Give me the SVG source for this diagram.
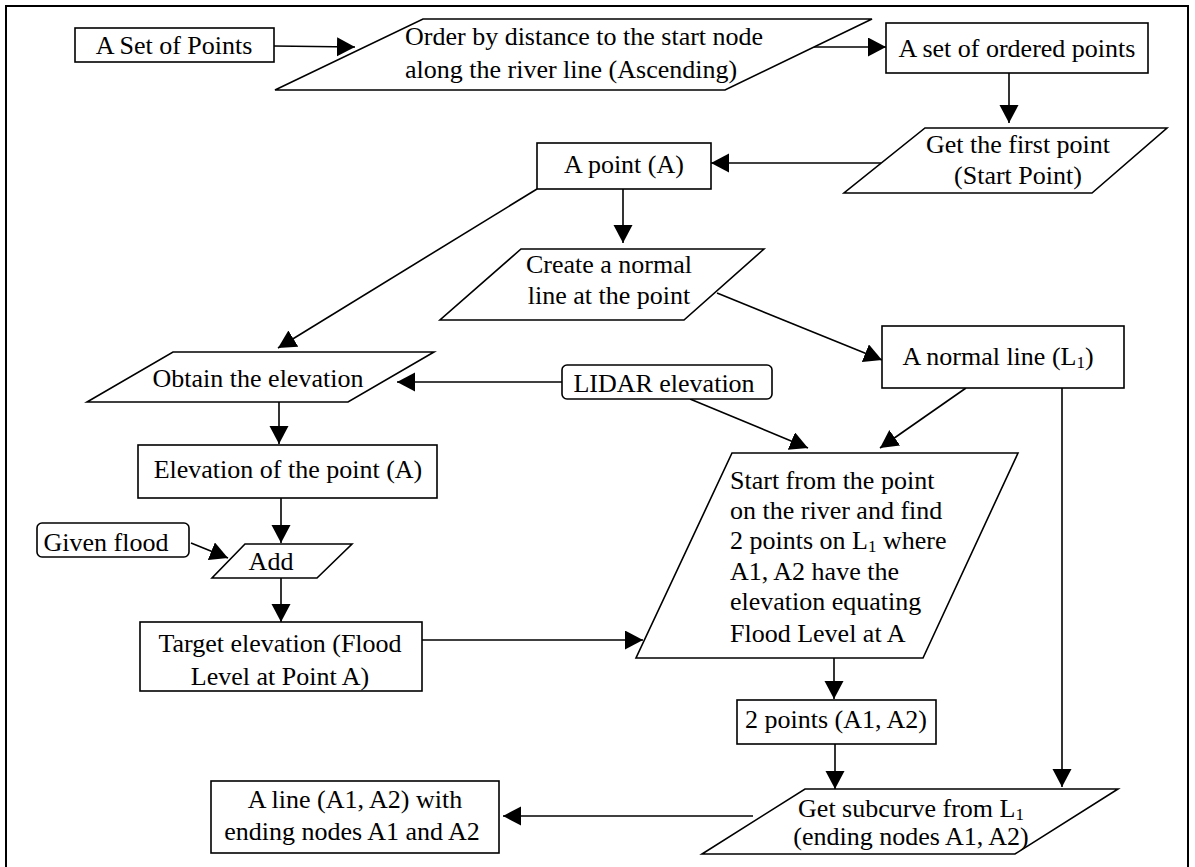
<svg xmlns="http://www.w3.org/2000/svg" width="1195" height="867" viewBox="0 0 1195 867">
<style>
.s{fill:#fff;stroke:#000;stroke-width:1.6}
.t{font-size:26px;fill:#000}
.c{text-anchor:middle}
.e{stroke:#000;stroke-width:1.6;fill:none;marker-end:url(#ah)}
</style>
<defs>
<marker id="ah" markerUnits="userSpaceOnUse" markerWidth="20" markerHeight="20" refX="18" refY="9.5" orient="auto">
<path d="M0,0 L18,9.5 L0,19 z" fill="#000"/>
</marker>
</defs>
<rect x="6" y="6" width="1182" height="880" fill="#fff" stroke="#000" stroke-width="2"/>
<g id="connectors">
<line class="e" x1="274" y1="46" x2="355" y2="47"/>
<line class="e" x1="814" y1="47" x2="886" y2="47"/>
<line class="e" x1="1009" y1="73" x2="1009" y2="123"/>
<line class="e" x1="881" y1="163" x2="711" y2="163"/>
<line class="e" x1="623" y1="189" x2="623" y2="243"/>
<line class="e" x1="537" y1="189" x2="278" y2="348"/>
<line class="e" x1="717" y1="293" x2="882" y2="360"/>
<line class="e" x1="562" y1="382" x2="397" y2="382"/>
<line class="e" x1="690" y1="399" x2="808" y2="448"/>
<line class="e" x1="966" y1="388" x2="880" y2="448"/>
<line class="e" x1="1062" y1="388" x2="1062" y2="787"/>
<line class="e" x1="279" y1="402" x2="279" y2="444"/>
<line class="e" x1="281" y1="498" x2="281" y2="543"/>
<line class="e" x1="191" y1="543" x2="228" y2="558"/>
<line class="e" x1="281" y1="578" x2="281" y2="622"/>
<line class="e" x1="422" y1="640" x2="643" y2="640"/>
<line class="e" x1="834" y1="658" x2="834" y2="699"/>
<line class="e" x1="835" y1="744" x2="835" y2="789"/>
<line class="e" x1="753" y1="816" x2="503" y2="816"/>
</g>
<g font-family="Liberation Serif, Tinos, DejaVu Serif, serif">
<g id="set_of_points">
<rect class="s" x="75" y="28" width="199" height="34"/>
<text class="t c" x="174" y="54">A Set of Points</text>
</g>
<g id="order">
<polygon class="s" points="423,19 872,19 725,90 275,90"/>
<text class="t" x="405" y="45">Order by distance to the start node</text>
<text class="t" x="405" y="78">along the river line (Ascending)</text>
</g>
<g id="ordered_points">
<rect class="s" x="886" y="23" width="262" height="50"/>
<text class="t c" x="1017" y="57">A set of ordered points</text>
</g>
<g id="first_point">
<polygon class="s" points="925,128 1167,128 1092,193 844,193"/>
<text class="t c" x="1018" y="153">Get the first point</text>
<text class="t c" x="1018" y="184">(Start Point)</text>
</g>
<g id="point_a">
<rect class="s" x="537" y="143" width="174" height="46"/>
<text class="t c" x="624" y="173">A point (A)</text>
</g>
<g id="create_normal">
<polygon class="s" points="521,249 764,249 684,320 440,320"/>
<text class="t c" x="609" y="273">Create a normal</text>
<text class="t c" x="609" y="304">line at the point</text>
</g>
<g id="normal_line">
<rect class="s" x="882" y="326" width="242" height="62"/>
<text class="t c" x="998" y="365">A normal line (L<tspan font-size="17" dy="3">1</tspan><tspan dy="-3">)</tspan></text>
</g>
<g id="obtain">
<polygon class="s" points="173,352 434,352 348,402 87,402"/>
<text class="t c" x="258" y="387">Obtain the elevation</text>
</g>
<g id="lidar">
<rect class="s" x="562" y="365" width="210" height="34" rx="5"/>
<text class="t c" x="664" y="392">LIDAR elevation</text>
</g>
<g id="elev_point">
<rect class="s" x="138" y="445" width="299" height="53"/>
<text class="t c" x="288" y="478">Elevation of the point (A)</text>
</g>
<g id="given_flood">
<rect class="s" x="37" y="523" width="152" height="34" rx="5"/>
<text class="t c" x="106" y="551">Given flood</text>
</g>
<g id="add">
<polygon class="s" points="245,544 352,544 317,578 212,578"/>
<text class="t c" x="271" y="570">Add</text>
</g>
<g id="target">
<rect class="s" x="140" y="622" width="282" height="69"/>
<text class="t c" x="280" y="652">Target elevation (Flood</text>
<text class="t c" x="280" y="685">Level at Point A)</text>
</g>
<g id="start_from">
<polygon class="s" points="732,453 1018,453 923,658 636,658"/>
<text class="t" x="730" y="489">Start from the point</text>
<text class="t" x="730" y="519">on the river and find</text>
<text class="t" x="730" y="549">2 points on L<tspan font-size="17" dy="3">1</tspan><tspan dy="-3"> where</tspan></text>
<text class="t" x="730" y="580">A1, A2 have the</text>
<text class="t" x="730" y="610">elevation equating</text>
<text class="t" x="730" y="642">Flood Level at A</text>
</g>
<g id="two_points">
<rect class="s" x="737" y="700" width="199" height="44"/>
<text class="t c" x="836" y="728">2 points (A1, A2)</text>
</g>
<g id="subcurve">
<polygon class="s" points="805,789 1118,789 1015,854 702,854"/>
<text class="t c" x="911" y="817">Get subcurve from L<tspan font-size="17" dy="3">1</tspan></text>
<text class="t c" x="911" y="845">(ending nodes A1, A2)</text>
</g>
<g id="a_line">
<rect class="s" x="211" y="781" width="288" height="72"/>
<text class="t c" x="355" y="808">A line (A1, A2) with</text>
<text class="t c" x="352" y="840">ending nodes A1 and A2</text>
</g>
</g>
</svg>
